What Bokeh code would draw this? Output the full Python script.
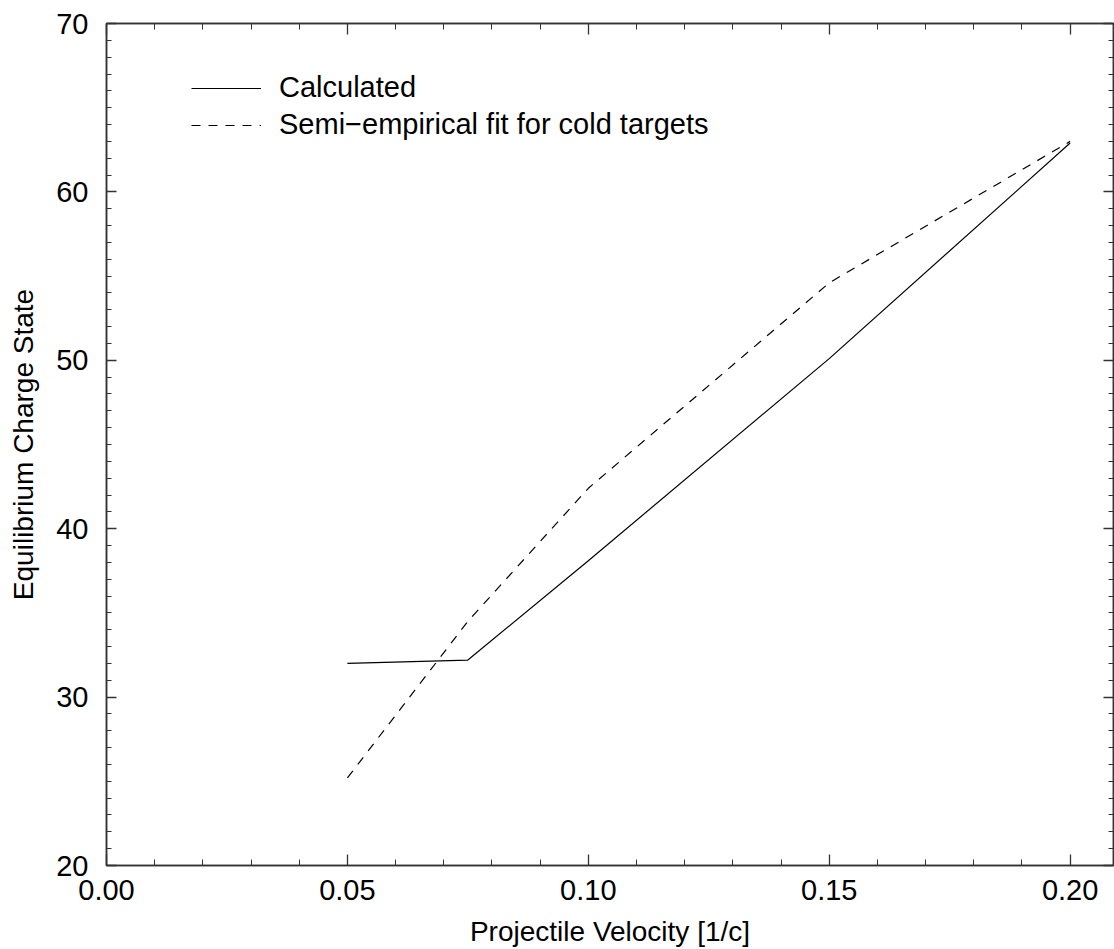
from bokeh.plotting import figure
from bokeh.models import (LinearAxis, SingleIntervalTicker, NumeralTickFormatter,
                          CustomJSTickFormatter, Range1d, Legend, LegendItem,
                          ColumnDataSource)
from bokeh.embed import file_html
from bokeh.resources import INLINE

# ---- data ----
velocity = [0.05, 0.075, 0.10, 0.15, 0.20]
calculated = [32.0, 32.2, 38.1, 50.1, 62.9]
semi_empirical = [25.2, 34.5, 42.4, 54.6, 63.0]
series_labels = ["Calculated", "Semi\u2212empirical fit for cold targets"]
x_label = "Projectile Velocity [1/c]"
y_label = "Equilibrium Charge State"

FONT = "Liberation Sans"
FS = "29px"
AXC = "#333333"

p = figure(width=1114, height=949, output_backend="svg", toolbar_location=None,
           x_range=Range1d(0, 0.209), y_range=Range1d(20, 70),
           min_border_left=106, min_border_right=1, min_border_top=23,
           min_border_bottom=83, x_axis_location=None, y_axis_location=None)
p.grid.visible = False
p.outline_line_color = AXC
p.outline_line_width = 1.5
p.background_fill_color = "white"
p.border_fill_color = "white"

def make_axis(kind, labels, side):
    if kind == "x":
        tk = SingleIntervalTicker(interval=0.05, num_minor_ticks=5)
        fmt = NumeralTickFormatter(format="0.00")
    else:
        tk = SingleIntervalTicker(interval=10, num_minor_ticks=10)
        fmt = NumeralTickFormatter(format="0")
    if not labels:
        fmt = CustomJSTickFormatter(code="return '';")
    ax = LinearAxis(ticker=tk, formatter=fmt)
    ax.major_tick_in = 11 if kind == "x" else 10
    ax.major_tick_out = 0
    ax.minor_tick_in = 6 if kind == "x" else 5
    ax.minor_tick_out = 0
    ax.axis_line_color = AXC
    ax.axis_line_width = 1.5
    ax.major_tick_line_color = AXC
    ax.minor_tick_line_color = AXC
    ax.major_tick_line_width = 1.3
    ax.minor_tick_line_width = 1.0
    ax.major_label_text_font = FONT
    if labels:
        ax.major_label_text_font_size = FS
        ax.major_label_text_color = "black"
        ax.axis_label_text_font = FONT
        ax.axis_label_text_font_size = "28px"
        ax.axis_label_text_font_style = "normal"
        ax.axis_label_text_color = "black"
        if kind == "x":
            ax.axis_label = x_label
            ax.major_label_standoff = 14
            ax.axis_label_standoff = 13
        else:
            ax.axis_label = y_label
            ax.major_label_standoff = 18
            ax.axis_label_standoff = 14
    else:
        ax.major_label_text_font_size = "1px"
        ax.major_label_standoff = 0
    p.add_layout(ax, side)
    return ax

make_axis("x", True, "below")
make_axis("y", True, "left")
make_axis("x", False, "above")
make_axis("y", False, "right")

src = ColumnDataSource(dict(v=velocity, calc=calculated, semi=semi_empirical))
r1 = p.line("v", "calc", source=src, line_color="black", line_width=1.2)
r2 = p.line("v", "semi", source=src, line_color="black", line_width=1.2,
            line_dash="9 8")

legend = Legend(items=[LegendItem(label=series_labels[0], renderers=[r1]),
                       LegendItem(label=series_labels[1], renderers=[r2])],
                location=(85, 724), orientation="vertical")
legend.border_line_color = None
legend.background_fill_alpha = 0
legend.padding = 0
legend.margin = 0
legend.spacing = 4
legend.glyph_width = 70
legend.glyph_height = 30
legend.label_height = 30
legend.label_standoff = 18
legend.label_text_font = FONT
legend.label_text_font_size = FS
legend.label_text_color = "black"
p.add_layout(legend, "center")

open("out.html", "w").write(file_html(p, INLINE))
